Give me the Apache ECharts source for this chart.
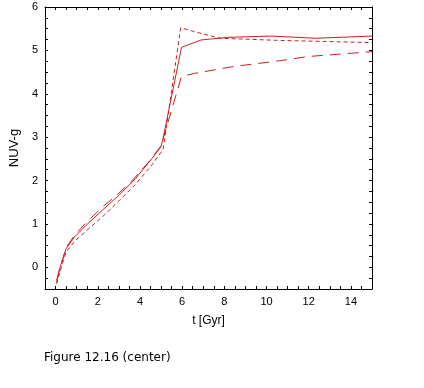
<!DOCTYPE html>
<html>
<head>
<meta charset="utf-8">
<script src="https://cdn.jsdelivr.net/npm/echarts@6/dist/echarts.min.js"></script>
<style>
html,body{margin:0;padding:0;background:#fff;}
#c{width:424px;height:388px;}
</style>
</head>
<body>
<div id="c"></div>
<script>
// ---- data ----
var solidX = [0.05, 0.15, 0.28, 0.5, 0.9, 1.45, 2.23, 3.0, 3.8, 4.57, 5.0, 5.1, 5.97, 6.9, 8.15, 10.2, 12.35, 15];
var solidY = [-0.35, -0.1, 0.1, 0.43, 0.7, 0.97, 1.32, 1.66, 2.05, 2.51, 2.78, 2.98, 5.07, 5.24, 5.30, 5.33, 5.28, 5.33];

var shortX = [0.05, 0.3, 0.5, 0.9, 1.5, 2.3, 3.0, 3.8, 4.6, 5.1, 5.93, 6.9, 7.8, 10.6, 15];
var shortY = [-0.38, 0.05, 0.35, 0.6, 0.86, 1.2, 1.53, 1.92, 2.38, 2.72, 5.52, 5.39, 5.28, 5.23, 5.18];

var longX = [0.05, 0.3, 0.5, 0.9, 1.45, 2.2, 2.8, 3.6, 4.4, 5.0, 5.97, 6.6, 8.45, 10.3, 12.0, 15];
var longY = [-0.3, 0.12, 0.45, 0.74, 1.03, 1.38, 1.62, 1.98, 2.42, 2.8, 4.4, 4.47, 4.63, 4.74, 4.86, 4.97];

var xTickLabels = [0, 2, 4, 6, 8, 10, 12, 14];
var yTickLabels = [0, 1, 2, 3, 4, 5, 6];
var xMinorTicks = [0, 0.5, 1, 1.5, 2, 2.5, 3, 3.5, 4, 4.5, 5, 5.5, 6, 6.5, 7, 7.5, 8, 8.5, 9, 9.5, 10, 10.5, 11, 11.5, 12, 12.5, 13, 13.5, 14, 14.5];
var yMinorTicks = [-0.25, 0, 0.25, 0.5, 0.75, 1, 1.25, 1.5, 1.75, 2, 2.25, 2.5, 2.75, 3, 3.25, 3.5, 3.75, 4, 4.25, 4.5, 4.75, 5, 5.25, 5.5, 5.75];

function pairs(xs, ys) { return xs.map(function (x, i) { return [x, ys[i]]; }); }

var LINE = '#cc2020';
var lblFont = { color: '#000', fontFamily: 'Liberation Sans', fontSize: 11 };

function xAx(pos, labels) {
  return {
    type: 'value', position: pos, min: -0.5, max: 15,
    axisLine: { show: true, onZero: false, lineStyle: { color: '#000', width: 1 } },
    axisTick: { show: true, inside: true, length: 3, customValues: xMinorTicks, lineStyle: { color: '#000' } },
    axisLabel: labels ? Object.assign({ show: true, margin: 7, customValues: xTickLabels }, lblFont) : { show: false },
    splitLine: { show: false },
    name: labels ? 't [Gyr]' : '',
    nameLocation: 'middle', nameGap: 26,
    nameTextStyle: { color: '#000', fontFamily: 'Liberation Sans', fontSize: 12 }
  };
}
function yAx(pos, labels) {
  return {
    type: 'value', position: pos, min: -0.5, max: 6,
    axisLine: { show: true, onZero: false, lineStyle: { color: '#000', width: 1 } },
    axisTick: { show: true, inside: true, length: 3, customValues: yMinorTicks, lineStyle: { color: '#000' } },
    axisLabel: labels ? Object.assign({ show: true, margin: 7, customValues: yTickLabels }, lblFont) : { show: false },
    splitLine: { show: false },
    name: labels ? 'NUV-g' : '',
    nameLocation: 'middle', nameGap: 18, nameRotate: 90,
    nameTextStyle: { color: '#000', fontFamily: 'Liberation Sans', fontSize: 13 }
  };
}

var chart = echarts.init(document.getElementById('c'), null, { renderer: 'canvas' });
chart.setOption({
  animation: false,
  backgroundColor: '#fff',
  title: {
    text: 'Figure 12.16 (center)', left: 39, top: 347,
    textStyle: { color: '#000', fontFamily: 'DejaVu Sans', fontSize: 12, fontWeight: 'normal' }
  },
  grid: { left: 42, right: 52, top: 7, bottom: 99, containLabel: false },
  xAxis: [xAx('bottom', true), xAx('top', false)],
  yAxis: [yAx('left', true), yAx('right', false)],
  series: [
    { type: 'line', data: pairs(solidX, solidY), showSymbol: false, lineStyle: { color: LINE, width: 1, type: 'solid' } },
    { type: 'line', data: pairs(shortX, shortY), showSymbol: false, lineStyle: { color: LINE, width: 1, type: [4, 3] } },
    { type: 'line', data: pairs(longX, longY), showSymbol: false, lineStyle: { color: LINE, width: 1, type: [11, 7] } }
  ]
});
</script>
</body>
</html>
